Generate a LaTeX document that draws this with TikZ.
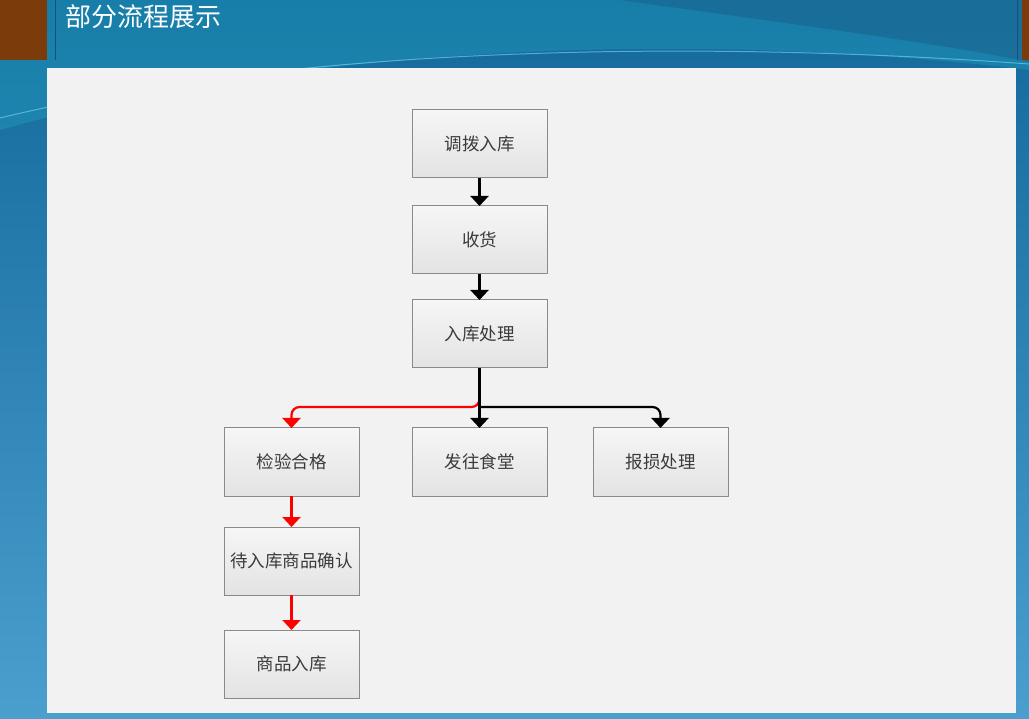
\documentclass[tikz,border=0pt]{standalone}
\usepackage{fontspec}
\setmainfont{Noto Sans CJK SC}
\usetikzlibrary{arrows.meta}

\definecolor{bgtop}{HTML}{12689A}
\definecolor{bgbot}{HTML}{4A9FCF}
\definecolor{bgdark}{HTML}{1D4F7E}
\definecolor{bglight}{HTML}{1FA9C4}
\definecolor{panelgray}{HTML}{F2F2F2}
\definecolor{stripbrown}{HTML}{7C3B0A}
\definecolor{boxgray}{HTML}{8A8A8A}
\definecolor{boxtop}{HTML}{F6F6F6}
\definecolor{boxbottom}{HTML}{E3E3E3}
\definecolor{textgray}{HTML}{3A3A3A}

\begin{document}
\begin{tikzpicture}[x=1pt,y=-1pt]
  \tikzset{BoxStyle/.style = {
    shape         = rectangle,
    draw          = boxgray,
    top color     = boxtop,
    bottom color  = boxbottom,
    line width    = 1pt,
    text          = textgray,
    inner sep     = 0pt,
    outer sep     = 0pt,
    minimum width = 135pt,
    minimum height= 68pt,
    font          = \fontsize{17.5}{19}\selectfont
    }
  }
  \tikzset{FlowStyle/.style = {
    draw            = black,
    line width      = 2.2pt,
    rounded corners = 8pt,
    -{Triangle[width=18pt,length=10pt]}
    }
  }
  \tikzset{RedFlowStyle/.style = {
    FlowStyle,
    draw          = red,
    {-{Triangle[width=18pt,length=10pt,fill=red]}}
    }
  }
  \useasboundingbox (0,0) rectangle (1029,719);

  % background
  \fill[top color=bgtop, bottom color=bgbot] (0,0) rectangle (1029,719);
  \fill[bglight, opacity=0.35] (0,130) .. controls (300,45) and (700,30) .. (1029,70) -- (1029,0) -- (0,0) -- cycle;
  \fill[bgdark, opacity=0.35] (620,0) .. controls (800,25) and (950,45) .. (1029,62) -- (1029,0) -- cycle;
  \draw[cyan!50!white, line width=1pt, opacity=0.6] (0,118) .. controls (300,45) and (700,40) .. (1029,64);
  \fill[stripbrown] (0,0) rectangle (47,60);
  \fill[stripbrown] (1022,0) rectangle (1029,60);
  \draw[bgdark, line width=1pt] (55,0) -- (55,60);
  \draw[bgdark, line width=1pt] (1017,0) -- (1017,60);
  \node[anchor=west, text=white, font=\fontsize{26}{28}\selectfont](title) at (62,17) {部分流程展示};
  \fill[panelgray] (47,68) rectangle (1016,713);

	\node[BoxStyle](A1) at (479.5,144) {调拨入库};
	\node[BoxStyle](B1) at (479.5,240) {收货};
	\node[BoxStyle](C1) at (479.5,334) {入库处理};
	\node[BoxStyle](D1) at (291.5,462) {检验合格};
	\node[BoxStyle](D2) at (479.5,462) {发往食堂};
	\node[BoxStyle](D3) at (660.5,462) {报损处理};
	\node[BoxStyle](E1) at (291.5,561) {待入库商品确认};
	\node[BoxStyle](F1) at (291.5,664) {商品入库};
	\coordinate (fork) at (479.5,407);

	\draw[FlowStyle](A1) -- (B1);
	\draw[FlowStyle](B1) -- (C1);
	\draw[FlowStyle](fork) -- (D2);
	\draw[FlowStyle](fork) -| (D3);
	\draw[RedFlowStyle](C1) -- (fork) -| (D1);
	\draw[RedFlowStyle](D1) -- (E1);
	\draw[RedFlowStyle](E1) -- (F1);
	\draw[draw=black, line width=2.2pt](C1) -- (fork);

\end{tikzpicture}
\end{document}
